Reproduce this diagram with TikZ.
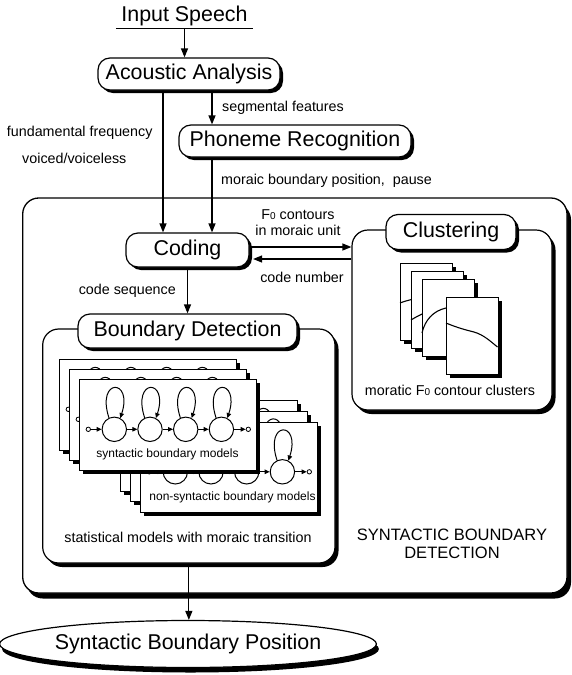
\documentclass[tikz,border=0pt]{standalone}
\usepackage{fontspec}
\setmainfont{Liberation Sans}
\usetikzlibrary{arrows.meta,shadows,calc,shapes.geometric}

\newcommand\Fz[1]{F{\fontsize{#1}{#1}\selectfont 0}}

\tikzset{
  blackshadow/.style 2 args={drop shadow={shadow xshift=#1,shadow yshift=-#2,opacity=1,fill=black}},
  titlebox/.style={draw, fill=white, line width=1.2pt, rounded corners=12pt, inner sep=0pt,
     font=\fontsize{21.4}{24}\selectfont, blackshadow={3pt}{3pt}},
  groupbox/.style={draw, fill=white, line width=1.2pt, rounded corners=16pt, inner sep=0pt},
  lab/.style={font=\fontsize{14.3}{17}\selectfont, inner sep=0pt},
  flow/.style={line width=1.2pt, -{Triangle[length=9pt,width=7pt]}},
  card/.style={draw, fill=white, line width=1.1pt, anchor=north west, inner sep=0pt,
     minimum width=177pt, minimum height=90.5pt, blackshadow={3.5pt}{3.5pt}},
  ccard/.style={draw, fill=white, line width=1.1pt, anchor=north west, inner sep=0pt,
     minimum width=52pt, minimum height=77pt, blackshadow={3pt}{3pt}},
  state/.style={circle, draw, line width=1pt, minimum size=24.4pt, inner sep=0pt},
  term/.style={circle, draw, line width=0.8pt, fill=white, minimum size=4.4pt, inner sep=0pt},
  hmm/.style={line width=1pt, -{Triangle[length=5pt,width=4.5pt]}},
  hmmlab/.style={font=\fontsize{12}{14}\selectfont, inner sep=0pt},
  curve/.style={line width=1.1pt}
}

\newcommand\hmmcard[5]{%
  \node[card] (#1) at (#2,-#3) {};
  \path (#1.north west) ++(35.3,-50.3) node[state] (#1a) {}
        ++(35.7,0) node[state] (#1b) {}
        ++(35.7,0) node[state] (#1c) {}
        ++(35.7,0) node[state] (#1d) {};
  \path (#1.north west) ++(9.3,-50.3) node[term] (#1i) {};
  \path (#1.north west) ++(169.3,-50.3) node[term] (#1o) {};
  \draw[hmm] (#1i) -- (#1a);
  \draw[hmm] (#1a) -- (#1b);
  \draw[hmm] (#1b) -- (#1c);
  \draw[hmm] (#1c) -- (#1d);
  \draw[hmm] (#1d) -- (#1o);
  \foreach \s in {a,b,c,d}
    \draw[hmm] (#1\s.115) .. controls +(-13,40) and +(13,40) .. (#1\s.62);
  \if\relax\detokenize{#4}\relax\else
    \path (#1.north west) ++(#5,-75.5) node[hmmlab] (#1l) {#4};
  \fi
}

\begin{document}
\begin{tikzpicture}[x=1pt,y=1pt]
\useasboundingbox (0,0) rectangle (571,-675);

% input
\node[font=\fontsize{21.4}{24}\selectfont, inner sep=0pt, minimum width=137pt] (insp) at (184.5,-16) {Input Speech};
\draw[line width=0.9pt] ([yshift=-2.5pt]insp.south west) -- ([yshift=-2.5pt]insp.south east);

\node[titlebox, minimum width=182pt, minimum height=32pt] (acou) at (189,-74) {Acoustic Analysis};
\node[titlebox, minimum width=232pt, minimum height=32pt] (phon) at (295,-141) {Phoneme Recognition};

\coordinate (xf) at (163,0);
\coordinate (xs) at (212,0);

\draw[flow] ([yshift=-2.5pt]insp.south) -- (insp.south |- acou.north);
\draw[flow] (acou.south -| xs) -- (phon.north -| xs);

\node[lab, anchor=west] (segl) at (222,-108) {segmental features};
\node[lab] (ffl) at (79.7,-133) {fundamental frequency};
\node[lab] (vvl) at (74.3,-158) {voiced/voiceless};
\node[lab, anchor=west] (mbl) at (221,-181) {moraic boundary position,\ \ pause};

% outer box
\node[groupbox, line width=1.3pt, minimum width=544.3pt, minimum height=395pt, blackshadow={4pt}{5.5pt}] (outer) at (294.85,-395.5) {};

% clustering group
\node[groupbox, minimum width=200pt, minimum height=180pt, blackshadow={3.5pt}{4pt}] (clg) at (452,-320) {};
\node[titlebox, minimum width=130pt, minimum height=35pt] (clus) at (451,-232) {Clustering};

% coding
\node[titlebox, minimum width=123pt, minimum height=34pt] (cod) at (187.5,-250) {Coding};

\draw[flow] (acou.south -| xf) -- (cod.north -| xf);
\draw[flow] (phon.south -| xs) -- (cod.north -| xs);

\draw[flow] ([yshift=3pt]cod.east) -- ([yshift=3pt]cod.east -| clg.west);
\draw[flow] ([yshift=-9pt]cod.east -| clg.west) -- ([xshift=3.5pt,yshift=-9pt]cod.east);

\node[lab, align=center, font=\fontsize{14.3}{16}\selectfont] (f0l) at (298,-223) {\Fz{10} contours\\in moraic unit};
\node[lab] (cnl) at (302,-277.3) {code number};
\node[lab] (csl) at (127.3,-290.7) {code sequence};

% clustering cards
\node[ccard] (k1) at (400,-263) {};
\draw[curve] (400,-303) .. controls (406,-300.5) and (420,-297) .. (451,-292);
\node[ccard] (k2) at (411,-271) {};
\draw[curve] (411,-320) .. controls (416,-317) and (430,-308) .. (462,-302);
\node[ccard] (k3) at (422,-279) {};
\draw[curve] (422,-333) .. controls (425,-320) and (433,-311) .. (446,-308) -- (470,-302);
\node[ccard] (k4) at (446,-297) {};
\draw[curve] (446,-323) .. controls (458,-328) and (466,-330) .. (474,-332) .. controls (484,-335) and (490,-341) .. (497.5,-347);
\node[lab] (mcl) at (450,-390.7) {moratic \Fz{10} contour clusters};

% boundary detection group
\node[groupbox, minimum width=292.3pt, minimum height=234pt, blackshadow={3.5pt}{4pt}] (bdg) at (188.85,-446) {};
\node[titlebox, minimum width=219pt, minimum height=34pt] (bdl) at (187.5,-331) {Boundary Detection};
\draw[flow] (cod.south) -- (cod.south |- bdl.north);

% non-syntactic models (behind)
\hmmcard{nd}{120}{400}{}{92.5}
\hmmcard{ne}{130}{410.5}{}{92.5}
\hmmcard{nf}{140}{421.5}{non-syntactic boundary models}{92.5}
% syntactic models
\hmmcard{sa}{59}{359}{}{88.5}
\hmmcard{sb}{69}{369}{}{88.5}
\hmmcard{sc}{79}{379}{syntactic boundary models}{88.5}

\node[lab] (stl) at (188,-537.7) {statistical models with moraic transition};

\node[align=center, inner sep=0pt, font=\fontsize{16.5}{18}\selectfont] (sbd) at (452,-544) {SYNTACTIC BOUNDARY\\DETECTION};

% output
\node[ellipse, draw, fill=white, line width=1.2pt, minimum width=331pt, minimum height=47pt, inner sep=0pt,
      font=\fontsize{21.4}{24}\selectfont, blackshadow={2.5pt}{5pt}] (sbp) at (188,-644) {Syntactic Boundary Position};
\draw[flow] (bdg.south) -- (bdg.south |- sbp.north);
\end{tikzpicture}
\end{document}
